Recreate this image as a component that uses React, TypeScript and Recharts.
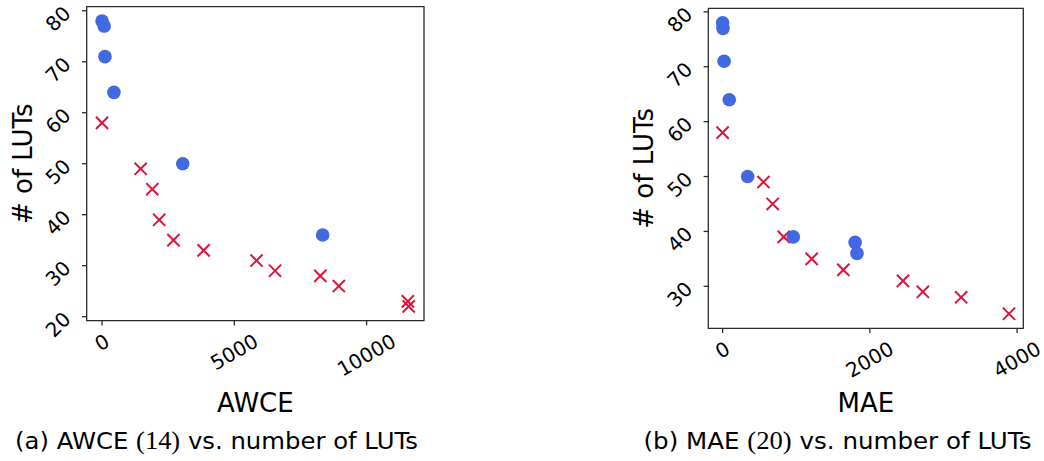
import React from 'react';
import { ScatterChart, Scatter, XAxis, YAxis, ReferenceArea } from 'recharts';

// (a) AWCE vs. number of LUTs
const awceBlueX = [0, 80, 110, 450, 3050, 8340];
const awceBlueLuts = [78, 77, 71, 64, 50, 36];
const awceRedX = [0, 1460, 1900, 2160, 2700, 3840, 5840, 6540, 8250, 8950, 11560, 11590];
const awceRedLuts = [58, 49, 45, 39, 35, 33, 31, 29, 28, 26, 23, 22];
const awceXTicks = [0, 5000, 10000];
const awceYTicks = [20, 30, 40, 50, 60, 70, 80];

// (b) MAE vs. number of LUTs
const maeBlueX = [0, 5, 20, 90, 340, 960, 1800, 1825];
const maeBlueLuts = [78, 77, 71, 64, 50, 39, 38, 36];
const maeRedX = [0, 555, 680, 830, 1210, 1640, 2450, 2720, 3240, 3890];
const maeRedLuts = [58, 49, 45, 39, 35, 33, 31, 29, 28, 25];
const maeXTicks = [0, 2000, 4000];
const maeYTicks = [30, 40, 50, 60, 70, 80];

const BLUE = '#4169E1';
const RED = '#DC143C';
const INK = '#2b2b2b';
const SANS = '"DejaVu Sans", sans-serif';
const SERIF = '"Liberation Serif", "DejaVu Serif", serif';
const TICK_FS = 20;

const toPoints = (xs: number[], ys: number[]) => xs.map((x, i) => ({ x, y: ys[i] }));

// autoscale with 5% padding on each side
const padded = (vals: number[]): [number, number] => {
  const lo = Math.min(...vals);
  const hi = Math.max(...vals);
  const m = (hi - lo) * 0.05;
  return [lo - m, hi + m];
};

const inkSize = (s: string) => ({
  w: (s.length * 0.636 - 0.1) * TICK_FS,
  h: 0.73 * TICK_FS,
});

const XTick = (props: any) => {
  const { x, y, payload } = props;
  const s = String(payload.value);
  const { w, h } = inkSize(s);
  const a = (30 * Math.PI) / 180;
  const cy = y + 8 + (w * Math.sin(a) + h * Math.cos(a)) / 2;
  return (
    <text
      x={x}
      y={cy}
      textAnchor="middle"
      dominantBaseline="central"
      fontFamily={SANS}
      fontSize={TICK_FS}
      fill="#000"
      transform={`rotate(-30 ${x} ${cy})`}
    >
      {s}
    </text>
  );
};

const YTick = (props: any) => {
  const { x, y, payload } = props;
  const s = String(payload.value);
  const { w, h } = inkSize(s);
  const cx = x - 10.4 - ((w + h) * Math.SQRT1_2) / 2;
  const cy = y + 8;
  return (
    <text
      x={cx}
      y={cy}
      textAnchor="middle"
      dominantBaseline="central"
      fontFamily={SANS}
      fontSize={TICK_FS}
      fill="#000"
      transform={`rotate(-45 ${cx} ${cy})`}
    >
      {s}
    </text>
  );
};

const Dot = (props: any) => <circle cx={props.cx} cy={props.cy} r={6.8} fill={BLUE} />;

const Cross = (props: any) => {
  const { cx, cy } = props;
  const d = 6.1;
  return (
    <g stroke={RED} strokeWidth={2} strokeLinecap="butt">
      <line x1={cx - d} y1={cy - d} x2={cx + d} y2={cy + d} />
      <line x1={cx - d} y1={cy + d} x2={cx + d} y2={cy - d} />
    </g>
  );
};

type PanelProps = {
  left: number;
  width: number;
  margin: { top: number; right: number; bottom: number; left: number };
  xAxisHeight: number;
  blueX: number[];
  blueY: number[];
  redX: number[];
  redY: number[];
  xTicks: number[];
  yTicks: number[];
  xTitle: string;
  captionTag: string;
  captionMetric: string;
  captionRef: string;
  captionX: number;
  captionWidth: number;
};

const Panel = (p: PanelProps) => {
  const blue = toPoints(p.blueX, p.blueY);
  const red = toPoints(p.redX, p.redY);
  const xDomain = padded([...p.blueX, ...p.redX]);
  const yDomain = padded([...p.blueY, ...p.redY]);

  const xLabel = (lp: any) => {
    const vb = lp.viewBox || {};
    return (
      <g>
        <text
          x={vb.x + vb.width / 2}
          y={411.7}
          textAnchor="middle"
          fontFamily={SANS}
          fontSize={26}
          fill="#000"
        >
          {p.xTitle}
        </text>
        <text
          x={p.captionX}
          y={449}
          textAnchor="middle"
          fontFamily={SANS}
          fontSize={23}
          fill="#000"
          textLength={p.captionWidth}
          lengthAdjust="spacingAndGlyphs"
        >
          {`${p.captionTag} ${p.captionMetric} `}
          <tspan fontFamily={SERIF} fontSize={25}>{p.captionRef}</tspan>
          {' vs.  number of LUTs'}
        </text>
      </g>
    );
  };

  const yLabel = (lp: any) => {
    const vb = lp.viewBox || {};
    const bx = vb.x + vb.width - 55;
    const cy = vb.y + vb.height / 2;
    return (
      <text
        x={bx}
        y={cy}
        textAnchor="middle"
        fontFamily={SANS}
        fontSize={26}
        fill="#000"
        transform={`rotate(-90 ${bx} ${cy})`}
      >
        # of LUTs
      </text>
    );
  };

  return (
    <div style={{ position: 'absolute', left: p.left, top: 0 }}>
      <ScatterChart width={p.width} height={461} margin={p.margin}>
        <XAxis
          type="number"
          dataKey="x"
          domain={xDomain}
          allowDataOverflow
          ticks={p.xTicks}
          interval={0}
          height={p.xAxisHeight}
          tickSize={4.7}
          tickMargin={0}
          axisLine={false}
          tickLine={{ stroke: INK, strokeWidth: 1.3 }}
          tick={<XTick />}
          label={xLabel}
        />
        <YAxis
          type="number"
          dataKey="y"
          domain={yDomain}
          allowDataOverflow
          ticks={p.yTicks}
          interval={0}
          width={86.7}
          tickSize={4.7}
          tickMargin={0}
          axisLine={false}
          tickLine={{ stroke: INK, strokeWidth: 1.3 }}
          tick={<YTick />}
          label={yLabel}
        />
        <ReferenceArea
          x1={xDomain[0]}
          x2={xDomain[1]}
          y1={yDomain[0]}
          y2={yDomain[1]}
          fill="none"
          fillOpacity={0}
          stroke={INK}
          strokeWidth={1.3}
          ifOverflow="visible"
        />
        <Scatter data={red} shape={<Cross />} isAnimationActive={false} />
        <Scatter data={blue} shape={<Dot />} isAnimationActive={false} />
      </ScatterChart>
    </div>
  );
};

export default function App() {
  return (
    <div
      style={{
        position: 'absolute',
        left: 0,
        top: 0,
        width: 1044,
        height: 461,
        background: '#fff',
        fontFamily: SANS,
      }}
    >
      <Panel
        left={0}
        width={522}
        margin={{ top: 6.7, right: 98, bottom: 0, left: 0 }}
        xAxisHeight={140.3}
        blueX={awceBlueX}
        blueY={awceBlueLuts}
        redX={awceRedX}
        redY={awceRedLuts}
        xTicks={awceXTicks}
        yTicks={awceYTicks}
        xTitle="AWCE"
        captionTag="(a)"
        captionMetric="AWCE"
        captionRef="(14)"
        captionX={216.5}
        captionWidth={403}
      />
      <Panel
        left={522}
        width={522}
        margin={{ top: 8.3, right: 20.7, bottom: 0, left: 99.6 }}
        xAxisHeight={132.7}
        blueX={maeBlueX}
        blueY={maeBlueLuts}
        redX={maeRedX}
        redY={maeRedLuts}
        xTicks={maeXTicks}
        yTicks={maeYTicks}
        xTitle="MAE"
        captionTag="(b)"
        captionMetric="MAE"
        captionRef="(20)"
        captionX={315.5}
        captionWidth={388}
      />
    </div>
  );
}
